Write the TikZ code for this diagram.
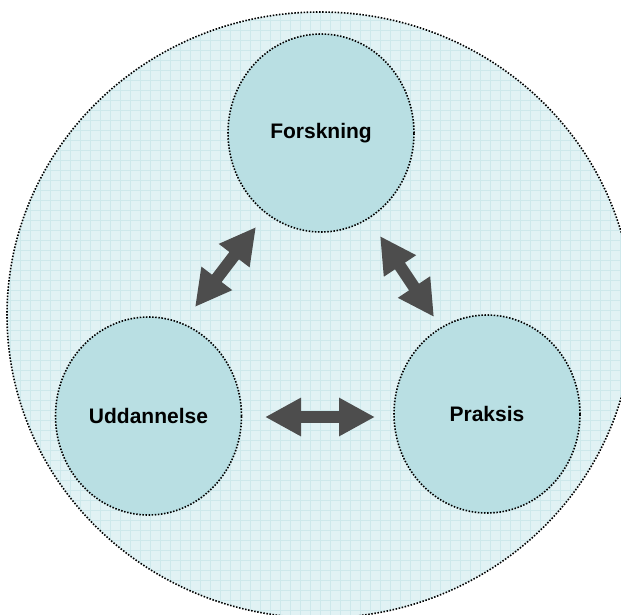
\documentclass[tikz,border=0pt]{standalone}
\usepackage{fontspec}
\setmainfont{Liberation Sans}
\usetikzlibrary{shapes.geometric,arrows.meta}
\definecolor{innerfill}{HTML}{B9DFE3}
\definecolor{outerfill}{HTML}{E1F2F4}
\definecolor{gridline}{HTML}{CDE8EB}
\definecolor{arrowgray}{HTML}{4D4D4D}
\tikzset{
  dotborder/.style={draw=black, line width=1.6pt, dash pattern=on 1.5pt off 1.6pt},
  bubble/.style={ellipse, dotborder, fill=innerfill, minimum width=186pt, minimum height=198pt, inner sep=0pt,
    font=\fontsize{21}{25}\selectfont\bfseries},
  dblarrow/.style={draw=arrowgray, line width=12pt, {Triangle[length=36pt,width=36pt]}-{Triangle[length=36pt,width=36pt]}},
  gridln/.style={draw=gridline, line width=0.9pt}
}
\begin{document}
\begin{tikzpicture}[x=1pt,y=-1pt]
\useasboundingbox (0,0) rectangle (621,614);
\begin{scope}
  \clip (320,315) ellipse [x radius=313, y radius=303];
  \fill[outerfill] (0,0) rectangle (640,640);
  \foreach \g in {0,10,...,640} {
    \draw[gridln] (\g,0) -- (\g,640);
    \draw[gridln] (0,\g) -- (640,\g);
  }
\end{scope}
\draw[dotborder] (320,315) ellipse [x radius=313, y radius=303];
\node[bubble] (F) at (321,133) {Forskning};
\node[bubble] (U) at (148.5,416) {Uddannelse};
\node[bubble] (P) at (487,414) {Praksis};
\coordinate (fu1) at (256,227);
\coordinate (fu2) at (195,307);
\coordinate (fp1) at (380,236);
\coordinate (fp2) at (434,317);
\coordinate (up1) at (265,417);
\coordinate (up2) at (375,417);
\draw[dblarrow] (fu1) -- (fu2);
\draw[dblarrow] (fp1) -- (fp2);
\draw[dblarrow] (up1) -- (up2);
\end{tikzpicture}
\end{document}
